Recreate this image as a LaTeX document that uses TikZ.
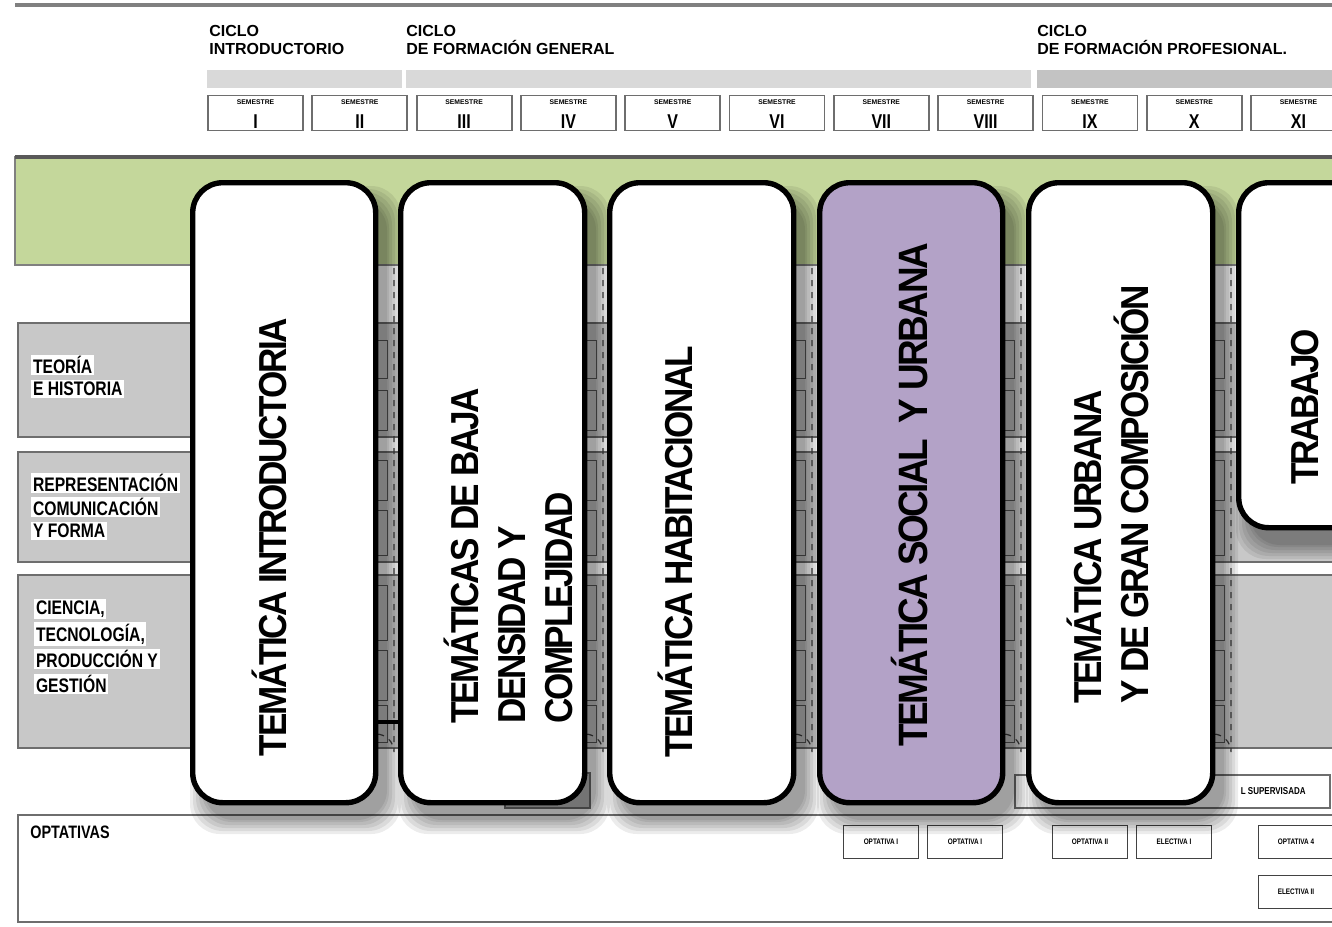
\documentclass[tikz,border=0pt]{standalone}
\usepackage{fontspec}
\setmainfont{Liberation Sans}
\newfontfamily\cardfont{Liberation Sans}[FakeStretch=0.9,LetterSpace=-6]
\newfontfamily\condfont{Liberation Sans}[FakeStretch=0.8]
\definecolor{greenband}{HTML}{C4D79B}
\definecolor{rowgray}{HTML}{C8C8C8}
\definecolor{bargray}{HTML}{D9D9D9}
\definecolor{bardark}{HTML}{C3C3C3}
\definecolor{lav}{HTML}{B3A2C7}
\definecolor{edge}{HTML}{6E6E6E}
\newcommand\mycardshadow[4]{%
  \foreach \e in {14,11,8,5,2,0}{%
    \fill[black,opacity=0.075,rounded corners=15pt]
      ({#1+14-\e},{#2+20-\e}) rectangle ({#3+14+\e},{#4+20+\e});}}
\begin{document}
\begin{tikzpicture}[x=0.5pt,y=-0.5pt,
  head/.style={anchor=north west,align=left,inner sep=0pt,font=\bfseries\fontsize{8}{8.8}\selectfont},
  sembox/.style={draw=edge,line width=0.9pt,fill=white,minimum width=47.5pt,minimum height=17.5pt,inner sep=0pt},
  semword/.style={inner sep=0pt,font=\bfseries\fontsize{3.4}{3.4}\selectfont},
  semnum/.style={inner sep=0pt,font=\condfont\bfseries\fontsize{10}{10}\selectfont},
  rowbox/.style={draw=edge,line width=0.8pt,fill=rowgray},
  lab/.style={anchor=west,inner sep=0.8pt,fill=white,font=\condfont\bfseries\fontsize{9.8}{9.8}\selectfont},
  card/.style={draw=black,line width=2.7pt,rounded corners=15pt,fill=white,anchor=north west,inner sep=0pt},
  ctext/.style={rotate=90,align=left,inner sep=0pt,font=\cardfont\bfseries\fontsize{19.5}{23.5}\selectfont},
  optbox/.style={draw=edge!60!black,line width=0.8pt,fill=white,minimum width=37.5pt,minimum height=16.5pt,inner sep=0pt,font=\condfont\bfseries\fontsize{4}{4}\selectfont},
  cell/.style={draw=edge!80!black,line width=0.5pt},
  gapdash/.style={draw=edge!60!black,dashed,line width=0.6pt}]
\useasboundingbox (0,0) rectangle (1332,926);
\clip (0,0) rectangle (1332,926);
% top rule
\draw[line width=1.6pt,color=gray] (15,5) -- (1332,5);
% cycle headers
\node[head] (cyc1) at (209,25) {CICLO\\INTRODUCTORIO};
\node[head] (cyc2) at (406,25) {CICLO\\DE FORMACIÓN GENERAL};
\node[head] (cyc3) at (1037,25) {CICLO\\DE FORMACIÓN PROFESIONAL.};
\fill[bargray] (207,70) rectangle (402,88);
\fill[bargray] (406,70) rectangle (1031,88);
\fill[bardark] (1037,70) rectangle (1332,88);
% semester boxes
\foreach \r [count=\k from 0] in {I,II,III,IV,V,VI,VII,VIII,IX,X,XI}{
  \node[sembox] (sem\k) at ({255.5+104.3*\k},113) {};
  \node[semword] (semw\k) at ({255.5+104.3*\k},102.5) {SEMESTRE};
  \node[semnum] (semn\k) at ({255.5+104.3*\k},121.5) {\r};
}
% green band
\draw[fill=greenband,draw=gray,line width=0.8pt] (15,157) rectangle (1340,265);
\draw[line width=1.6pt,color=gray!70!black] (15,157) -- (1340,157);
% rows
\draw[rowbox] (18,323) rectangle (1340,437);
\draw[rowbox] (18,452) rectangle (1340,562);
\draw[rowbox] (18,575) rectangle (1340,748);
% row labels
\node[lab] (l1a) at (31,365) {TEORÍA};
\node[lab] (l1b) at (31,389) {E HISTORIA};
\node[lab] (l2a) at (31,483) {REPRESENTACIÓN};
\node[lab] (l2b) at (31,507) {COMUNICACIÓN};
\node[lab] (l2c) at (31,531) {Y FORMA};
\node[lab] (l3a) at (34,609) {CIENCIA,};
\node[lab] (l3b) at (34,634) {TECNOLOGÍA,};
\node[lab] (l3c) at (34,659) {PRODUCCIÓN Y};
\node[lab] (l3d) at (34,684) {GESTIÓN};
% table details visible between the cards
\foreach \g in {373,582,791,1000,1210}{
  \draw[cell] ({\g+1},265) -- ({\g+1},750);
  \foreach \t/\b in {340/378,390/430,460/500,510/555,585/640,650/700,705/742}{
    \draw[cell] ({\g+1},\t) rectangle ({\g+14},\b);
  }
  \draw[gapdash] ({\g+21},268) -- ({\g+21},752) arc[start angle=0,end angle=90,x radius=18,y radius=-18];
}
\draw[line width=2pt] (373,722) -- (398,722);
% bottom boxes
\draw[draw=edge,line width=0.8pt,fill=bargray!70!gray] (505,773) rectangle (590,808);
\draw[draw=edge,line width=0.8pt,fill=white] (1015,775) rectangle (1330,808);
\node[anchor=east,inner sep=0pt,font=\condfont\bfseries\fontsize{5}{5}\selectfont] (superv) at (1306,791) {L SUPERVISADA};
% optativas
\draw[draw=edge,line width=1pt,fill=white] (18,815) rectangle (1340,922);
\node[anchor=north west,inner sep=0pt,font=\condfont\bfseries\fontsize{9}{9}\selectfont] (opt) at (30,826) {OPTATIVAS};
\node[optbox] (o1) at (881,842) {OPTATIVA I};
\node[optbox] (o2) at (965,842) {OPTATIVA I};
\node[optbox] (o3) at (1090,842) {OPTATIVA II};
\node[optbox] (o4) at (1174,842) {ELECTIVA I};
\node[optbox] (o5) at (1296,842) {OPTATIVA 4};
\node[optbox] (o6) at (1296,892) {ELECTIVA II};
% shadows
\mycardshadow{190}{180}{373}{800}
\mycardshadow{398}{180}{582}{800}
\mycardshadow{607}{180}{791}{800}
\mycardshadow{817}{180}{1000}{800}
\mycardshadow{1026}{180}{1210}{800}
\mycardshadow{1236}{180}{1420}{525}
% cards
\node[card,minimum width=91.5pt,minimum height=310pt] (k1) at (190,180) {};
\node[card,minimum width=92pt,minimum height=310pt] (k2) at (398,180) {};
\node[card,minimum width=92pt,minimum height=310pt] (k3) at (607,180) {};
\node[card,fill=lav,minimum width=91.5pt,minimum height=310pt] (k4) at (817,180) {};
\node[card,minimum width=92pt,minimum height=310pt] (k5) at (1026,180) {};
\node[card,minimum width=92pt,minimum height=172.5pt] (k6) at (1236,180) {};
% card texts
\node[ctext] (t1) at (269,537) {TEMÁTICA INTRODUCTORIA};
\node[ctext] (t2) at (508,556) {TEMÁTICAS DE BAJA\\DENSIDAD Y\\COMPLEJIDAD};
\node[ctext] (t3) at (675,552) {TEMÁTICA HABITACIONAL};
\node[ctext,font=\cardfont\bfseries\fontsize{20.5}{24}\selectfont] (t4) at (910,495) {TEMÁTICA SOCIAL\ \ Y URBANA};
\node[ctext] (t5) at (1108,494) {TEMÁTICA URBANA\\Y DE GRAN COMPOSICIÓN};
\node[ctext] (t6) at (1305,407) {TRABAJO};
\end{tikzpicture}
\end{document}
